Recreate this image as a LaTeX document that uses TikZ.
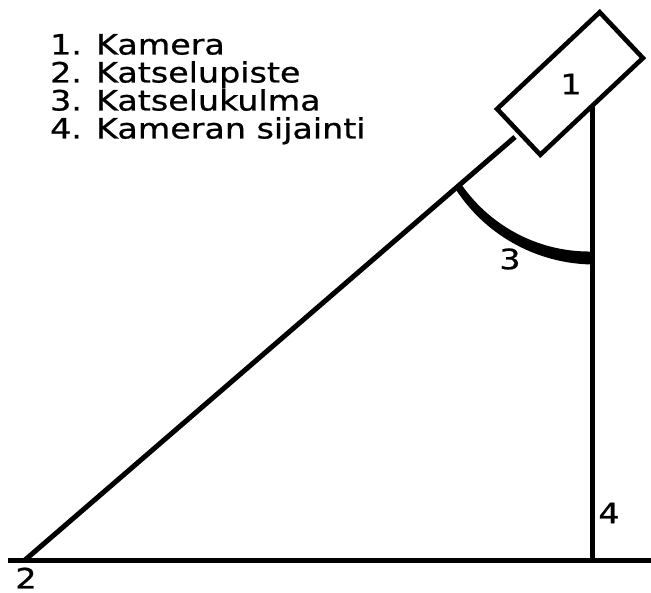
\documentclass[tikz,border=0pt]{standalone}
\usepackage{fontspec}
\setmainfont[FakeStretch=1.19,FakeBold=0.8]{DejaVu Sans}
\begin{document}
\begin{tikzpicture}[x=1pt,y=1pt,
  lbl/.style={inner sep=0pt,font=\fontsize{28}{28}\selectfont},
  legend/.style={lbl,anchor=base west},
  line/.style={line width=5pt},
  cam/.style={draw,line width=4.6pt,rectangle,minimum width=141pt,minimum height=63pt,rotate=43.3,inner sep=0pt}]
\useasboundingbox (0,0) rectangle (651,-593);
% points
\coordinate (G1) at (8,-560);
\coordinate (G2) at (651,-560);
\coordinate (P2) at (25,-560);
\coordinate (Dtop) at (515,-137);
\coordinate (Vtop) at (592,-107);
\coordinate (Vbot) at (592,-560);
% lines
\draw[line] (G1) -- (G2);
\draw[line] (P2) -- (Dtop);
\draw[line] (Vtop) -- (Vbot);
% camera
\node[cam] (camera) at (570,-83.5) {};
\node[lbl] (n1) at (571,-84) {1};
% angle arc (tapered)
\fill[variable=\t]
  plot[domain=213.5:270,samples=50] ({592+(160.7+3.7+2.8*(\t-213.5)/56.5)*cos(\t)},{-97.3+(160.7+3.7+2.8*(\t-213.5)/56.5)*sin(\t)})
  -- plot[domain=270:213.5,samples=50] ({592+(160.7-3.7-2.8*(\t-213.5)/56.5)*cos(\t)},{-97.3+(160.7-3.7-2.8*(\t-213.5)/56.5)*sin(\t)})
  -- cycle;
% labels
\node[lbl] (n2) at (26,-578) {2};
\node[lbl] (n3) at (510,-259) {3};
\node[lbl] (n4) at (609,-513) {4};
% legend
\node[legend] (l1) at (50,-54.5) {1. Kamera};
\node[legend] (l2) at (50,-82.5) {2. Katselupiste};
\node[legend] (l3) at (50,-110.5) {3. Katselukulma};
\node[legend] (l4) at (50,-138.5) {4. Kameran sijainti};
\end{tikzpicture}
\end{document}
